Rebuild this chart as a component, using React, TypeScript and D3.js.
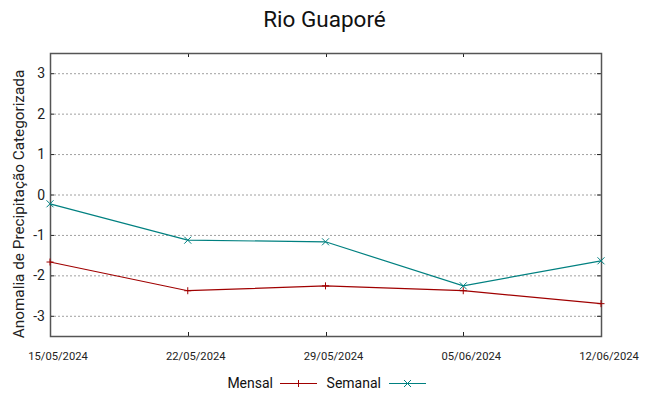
import React, { useEffect, useRef } from 'react';
import * as d3 from 'd3';

const dates = ['15/05/2024', '22/05/2024', '29/05/2024', '05/06/2024', '12/06/2024'];
const mensal = [-1.67, -2.38, -2.26, -2.38, -2.70];
const semanal = [-0.23, -1.13, -1.17, -2.26, -1.64];
const yTicks = [-3, -2, -1, 0, 1, 2, 3];

const W = 649;
const H = 396;

const App = () => {
  const svgRef = useRef<SVGSVGElement>(null);

  useEffect(() => {
    const svg = d3.select(svgRef.current);
    svg.selectAll('*').remove();

    const m = { top: 53, right: 48, bottom: 60, left: 50 };
    const x = d3.scalePoint<string>().domain(dates).range([m.left, W - m.right]);
    const y = d3.scaleLinear().domain([-3.5, 3.5]).range([H - m.bottom, m.top]);
    const font = 'Roboto, Liberation Sans, Arial, sans-serif';

    // grid (dotted, horizontal only)
    svg.append('g')
      .selectAll('line')
      .data(yTicks)
      .join('line')
      .attr('x1', m.left).attr('x2', W - m.right)
      .attr('y1', d => y(d) + 0.5).attr('y2', d => y(d) + 0.5)
      .attr('stroke', '#a0a0a0')
      .attr('stroke-dasharray', '2,2');

    // ticks, inward + mirrored
    const tk = svg.append('g').attr('stroke', '#222');
    yTicks.forEach(t => {
      tk.append('line').attr('x1', m.left).attr('x2', m.left + 4).attr('y1', y(t) + 0.5).attr('y2', y(t) + 0.5);
      tk.append('line').attr('x1', W - m.right - 4).attr('x2', W - m.right).attr('y1', y(t) + 0.5).attr('y2', y(t) + 0.5);
    });
    dates.forEach(d => {
      const px = Math.round(x(d)!) + 0.5;
      tk.append('line').attr('x1', px).attr('x2', px).attr('y1', H - m.bottom).attr('y2', H - m.bottom - 4);
      tk.append('line').attr('x1', px).attr('x2', px).attr('y1', m.top).attr('y2', m.top + 4);
    });

    // frame
    svg.append('rect')
      .attr('x', m.left + 0.5).attr('y', m.top + 0.5)
      .attr('width', W - m.left - m.right).attr('height', H - m.top - m.bottom)
      .attr('fill', 'none').attr('stroke', '#555').attr('stroke-width', 1.5);

    // y tick labels
    svg.append('g')
      .selectAll('text')
      .data(yTicks)
      .join('text')
      .attr('x', 45).attr('y', d => y(d) + 5)
      .attr('text-anchor', 'end')
      .style('font', `14px ${font}`)
      .attr('fill', '#222')
      .text(d => d);

    // x tick labels (offset right like the original)
    svg.append('g')
      .selectAll('text')
      .data(dates)
      .join('text')
      .attr('x', d => x(d)! + 8).attr('y', 360)
      .attr('text-anchor', 'middle')
      .style('font', `11.2px ${font}`)
      .attr('fill', '#222')
      .text(d => d);

    // title
    svg.append('text')
      .attr('x', W / 2).attr('y', 27)
      .attr('text-anchor', 'middle')
      .style('font', `22.5px ${font}`)
      .attr('fill', '#111')
      .text('Rio Guaporé');

    // y axis label
    svg.append('text')
      .attr('transform', `translate(24,204) rotate(-90)`)
      .attr('text-anchor', 'middle')
      .style('font', `15.3px ${font}`)
      .attr('fill', '#222')
      .text('Anomalia de Precipitação Categorizada');

    const series = [
      { name: 'Mensal', values: mensal, color: '#a00000', mark: 'plus' },
      { name: 'Semanal', values: semanal, color: '#008080', mark: 'cross' },
    ];

    const drawMark = (g: any, cx: number, cy: number, kind: string, color: string) => {
      const s = 3.5;
      if (kind === 'plus') {
        g.append('line').attr('x1', cx - s).attr('x2', cx + s).attr('y1', cy).attr('y2', cy).attr('stroke', color);
        g.append('line').attr('x1', cx).attr('x2', cx).attr('y1', cy - s).attr('y2', cy + s).attr('stroke', color);
      } else {
        g.append('line').attr('x1', cx - s).attr('x2', cx + s).attr('y1', cy - s).attr('y2', cy + s).attr('stroke', color);
        g.append('line').attr('x1', cx - s).attr('x2', cx + s).attr('y1', cy + s).attr('y2', cy - s).attr('stroke', color);
      }
    };

    const line = d3.line<number>().x((_, i) => x(dates[i])!).y(d => y(d));

    series.forEach(s => {
      const g = svg.append('g');
      g.append('path')
        .attr('d', line(s.values))
        .attr('fill', 'none')
        .attr('stroke', s.color)
        .attr('stroke-width', 1.2);
      s.values.forEach((v, i) => drawMark(g, x(dates[i])!, y(v), s.mark, s.color));
    });

    // legend
    const lg = svg.append('g').style('font', `14px ${font}`);
    const items = [
      { s: series[0], tx: 273, lx1: 280, lx2: 317 },
      { s: series[1], tx: 381, lx1: 389, lx2: 426 },
    ];
    items.forEach(it => {
      lg.append('text').attr('x', it.tx).attr('y', 388).attr('text-anchor', 'end').attr('fill', '#111').text(it.s.name);
      lg.append('line').attr('x1', it.lx1).attr('x2', it.lx2).attr('y1', 383.5).attr('y2', 383.5)
        .attr('stroke', it.s.color).attr('stroke-width', 1.2);
      drawMark(lg, (it.lx1 + it.lx2) / 2, 383.5, it.s.mark, it.s.color);
    });
  }, []);

  return (
    <svg ref={svgRef} width={W} height={H} style={{ display: 'block', position: 'absolute', left: 0, top: 0, background: '#fff' }} />
  );
};

export default App;
